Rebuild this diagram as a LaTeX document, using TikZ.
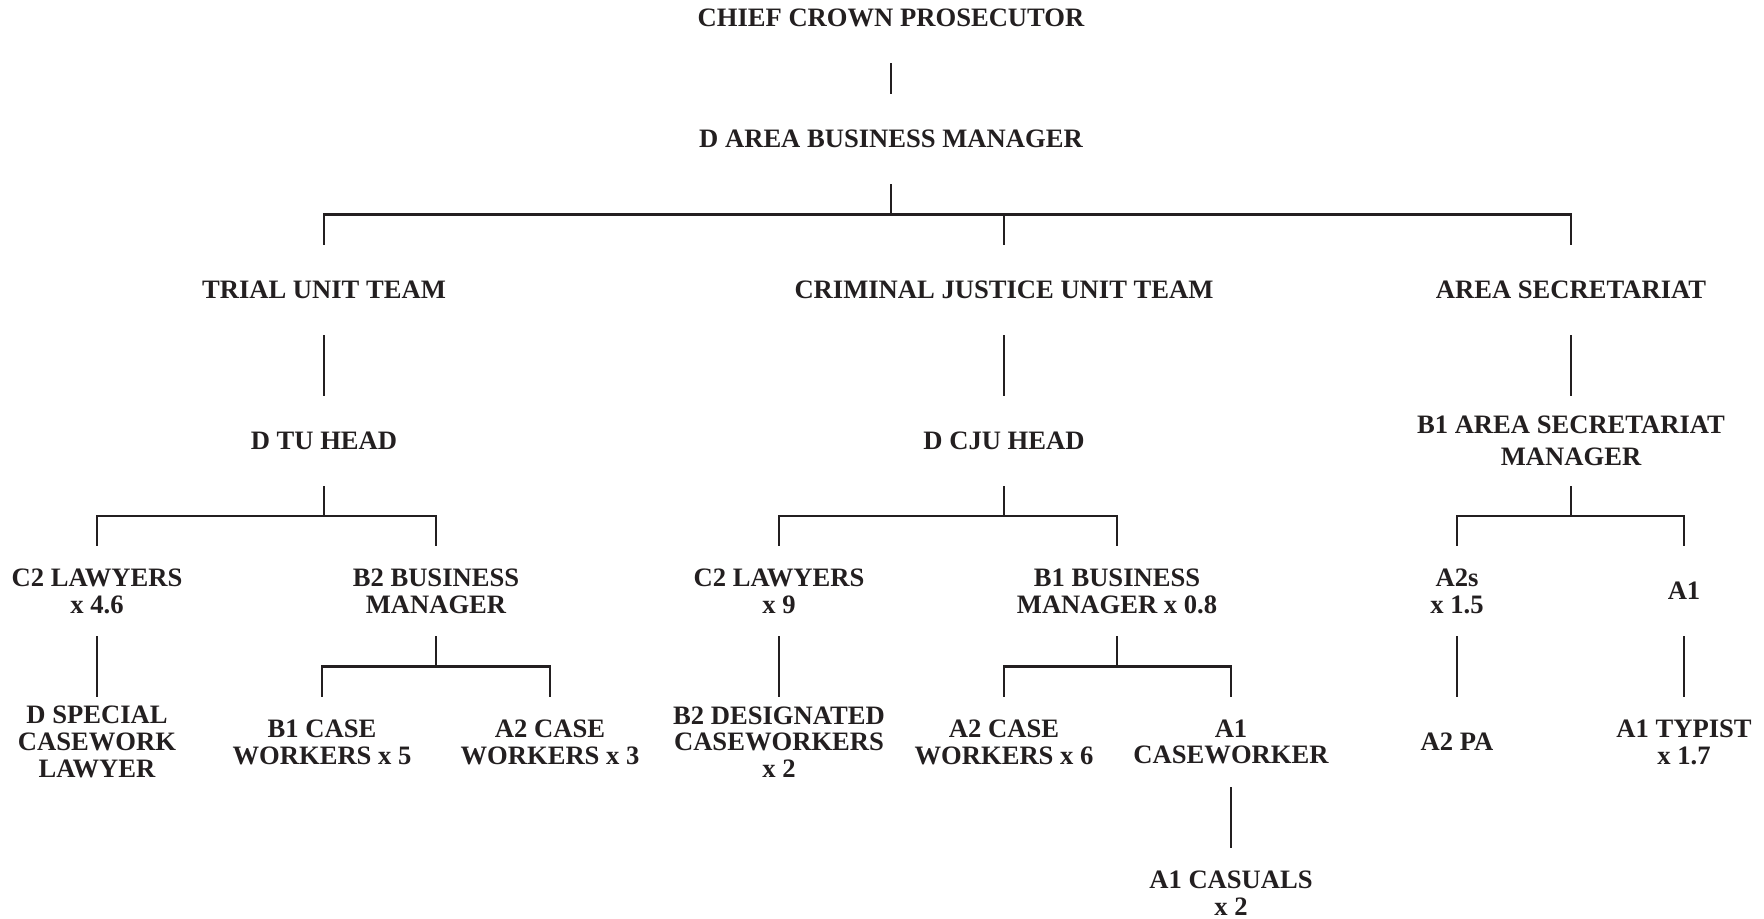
\documentclass[tikz,border=0pt]{standalone}
\usepackage{fontspec}
\setmainfont{Liberation Serif}
\usetikzlibrary{calc}
\definecolor{ink}{HTML}{231F20}

\begin{document}
\begin{tikzpicture}[
  x=0.5pt, y=-0.5pt,
  font=\bfseries\fontsize{13.3}{13.4}\selectfont,
  post/.style = {text=ink, align=center, inner sep=0pt, minimum height=45pt},
  ln/.style   = {draw=ink, line width=1.3pt},
]
\useasboundingbox (0,0) rectangle (1764,919);

% --- area level ----------------------------------------------------------------------------------
\node[post] (ccp)  at (891,18)  {CHIEF CROWN PROSECUTOR};
\node[post] (dabm) at (891,139) {D AREA BUSINESS MANAGER};

% --- the three teams -----------------------------------------------------------------------------
\node[post] (tut) at (324,290)  {TRIAL UNIT TEAM};
\node[post] (cju) at (1004,290) {CRIMINAL JUSTICE UNIT TEAM};
\node[post] (as)  at (1571,290) {AREA SECRETARIAT};

\node[post] (dtu)  at (324,441)  {D TU HEAD};
\node[post] (dcju) at (1004,441) {D CJU HEAD};
\node[post, font=\bfseries\fontsize{13.3}{16}\selectfont] (asm) at (1571,441)
  {B1 AREA SECRETARIAT\\MANAGER};

% --- fourth row ----------------------------------------------------------------------------------
\node[post] (c2la) at (97,591)   {C2 LAWYERS\\x 4.6};
\node[post] (b2bm) at (436,591)  {B2 BUSINESS\\MANAGER};
\node[post] (c2lb) at (779,591)  {C2 LAWYERS\\x 9};
\node[post] (b1bm) at (1117,591) {B1 BUSINESS\\MANAGER x 0.8};
\node[post] (a2s)  at (1457,591) {A2s\\x 1.5};
\node[post] (a1)   at (1684,591) {A1};

% --- fifth row -----------------------------------------------------------------------------------
\node[post] (dspec) at (97,742)   {D SPECIAL\\CASEWORK\\LAWYER};
\node[post] (b1cw)  at (322,742)  {B1 CASE\\WORKERS x 5};
\node[post] (a2cwa) at (550,742)  {A2 CASE\\WORKERS x 3};
\node[post] (b2des) at (779,742)  {B2 DESIGNATED\\CASEWORKERS\\x 2};
\node[post] (a2cwb) at (1004,742) {A2 CASE\\WORKERS x 6};
\node[post] (a1cw)  at (1231,742) {A1\\CASEWORKER};
\node[post] (a2pa)  at (1457,742) {A2 PA};
\node[post] (a1typ) at (1684,742) {A1 TYPIST\\x 1.7};

\node[post] (a1cas) at (1231,893) {A1 CASUALS\\x 2};

% --- straight lines ------------------------------------------------------------------------------
\draw[ln] (ccp.south) -- (dabm.north);
\draw[ln] (tut.south) -- (dtu.north);
\draw[ln] (cju.south) -- (dcju.north);
\draw[ln] (as.south) -- (asm.north);
\draw[ln] (c2la.south) -- (dspec.north);
\draw[ln] (c2lb.south) -- (b2des.north);
\draw[ln] (a2s.south) -- (a2pa.north);
\draw[ln] (a1.south) -- (a1typ.north);
\draw[ln] (a1cw.south) -- (a1cas.north);

% --- forks ---------------------------------------------------------------------------------------
\coordinate (fa) at ($(dabm.south)!.5!(dabm.south |- cju.north)$);
\draw[ln] (dabm.south) -- (fa);
\draw[ln] (tut.north) |- (fa) -| (as.north);
\draw[ln] (cju.north) -- (cju.north |- fa);

\coordinate (fb) at ($(dtu.south)!.5!(dtu.south |- c2la.north)$);
\draw[ln] (dtu.south) -- (fb);
\draw[ln] (c2la.north) |- (fb) -| (b2bm.north);

\coordinate (fc) at ($(dcju.south)!.5!(dcju.south |- c2lb.north)$);
\draw[ln] (dcju.south) -- (fc);
\draw[ln] (c2lb.north) |- (fc) -| (b1bm.north);

\coordinate (fd) at ($(asm.south)!.5!(asm.south |- a2s.north)$);
\draw[ln] (asm.south) -- (fd);
\draw[ln] (a2s.north) |- (fd) -| (a1.north);

\coordinate (fe) at ($(b2bm.south)!.5!(b2bm.south |- b1cw.north)$);
\draw[ln] (b2bm.south) -- (fe);
\draw[ln] (b1cw.north) |- (fe) -| (a2cwa.north);

\coordinate (ff) at ($(b1bm.south)!.5!(b1bm.south |- a2cwb.north)$);
\draw[ln] (b1bm.south) -- (ff);
\draw[ln] (a2cwb.north) |- (ff) -| (a1cw.north);

\end{tikzpicture}
\end{document}
